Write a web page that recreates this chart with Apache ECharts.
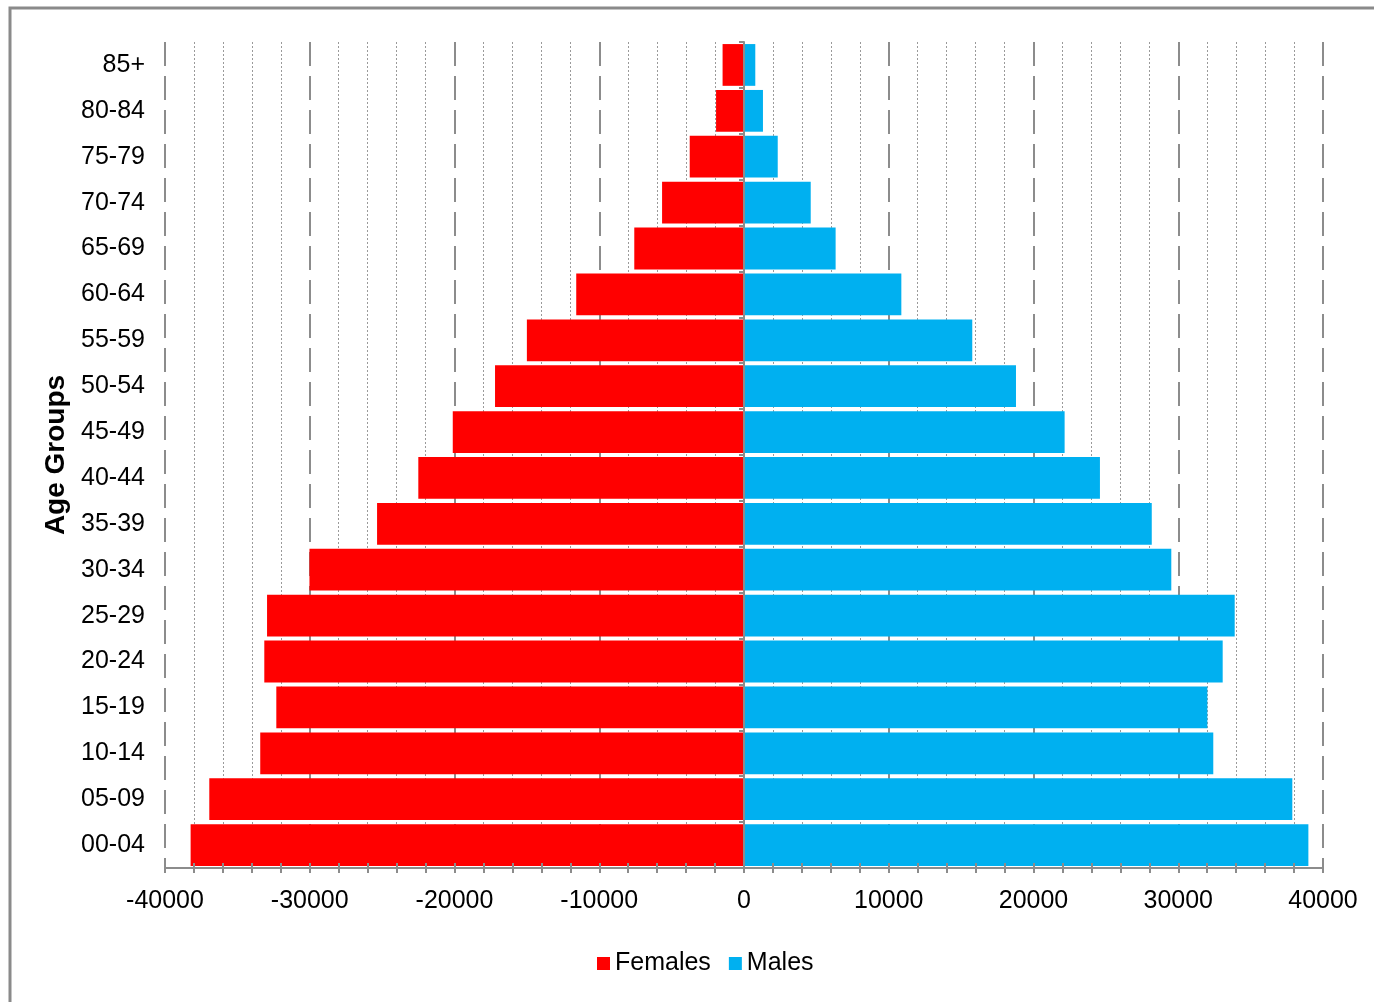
<!DOCTYPE html>
<html>
<head>
<meta charset="utf-8">
<title>Age Groups</title>
<script src="https://cdn.jsdelivr.net/npm/echarts@6/dist/echarts.min.js"></script>
<style>
  html, body { margin: 0; padding: 0; background: #fff; }
  #chart { width: 1374px; height: 1002px; }
</style>
</head>
<body>
<div id="chart"></div>
<script>
  // age groups, bottom to top
  var ageGroups = ['00-04', '05-09', '10-14', '15-19', '20-24', '25-29', '30-34', '35-39', '40-44',
    '45-49', '50-54', '55-59', '60-64', '65-69', '70-74', '75-79', '80-84', '85+']
  // females drawn to the left, so negative
  var females = [-38230, -36940, -33420, -32310, -33140, -32950, -30020, -25350, -22500,
    -20120, -17200, -15000, -11590, -7580, -5660, -3750, -1930, -1480]
  var males = [38990, 37880, 32420, 32010, 33070, 33900, 29520, 28170, 24590,
    22150, 18790, 15770, 10870, 6330, 4610, 2330, 1310, 780]
  var xMin = -40000
  var xMax = 40000
  var xStep = 10000

  var font = "'Liberation Sans', Arial, sans-serif"
  var gridGray = '#8c8c8c'

  var chart = echarts.init(document.getElementById('chart'))

  var option = {
    animation: false,
    color: ['#FF0000', '#00B0F0'],
    textStyle: { fontFamily: font },
    graphic: [{
      type: 'rect',
      shape: { x: 10, y: 8, width: 1400, height: 1100 },
      style: { fill: 'none', stroke: '#8a8a8a', lineWidth: 3 },
      silent: true
    }],
    legend: {
      top: 946,
      left: 592,
      icon: 'rect',
      itemWidth: 13,
      itemHeight: 13,
      itemGap: 18,
      textStyle: { fontSize: 25, color: '#000', fontFamily: font },
      data: ['Females', 'Males']
    },
    grid: {
      left: 165,
      right: 51,
      top: 42,
      bottom: 134
    },
    xAxis: [{
      type: 'value',
      min: xMin,
      max: xMax,
      interval: xStep,
      axisLine: { show: true, onZero: false, lineStyle: { color: gridGray, width: 2 } },
      axisTick: { show: true, length: 5, lineStyle: { color: gridGray, width: 2 } },
      minorTick: { show: true, splitNumber: 5, length: 5, lineStyle: { color: gridGray, width: 2 } },
      axisLabel: {
        fontSize: 25,
        color: '#000',
        margin: 21,
        fontFamily: font,
        formatter: function (v) { return String(v) }
      },
      splitLine: {
        show: true,
        lineStyle: { color: gridGray, width: 2, type: [24, 10] }
      },
      minorSplitLine: {
        show: true,
        lineStyle: { color: '#9a9a9a', width: 1, type: [2, 2] }
      }
    }, {
      // inward half of the crossing ticks
      type: 'value',
      position: 'bottom',
      min: xMin,
      max: xMax,
      interval: xStep,
      z: 10,
      axisLine: { show: false },
      axisTick: { show: true, inside: true, length: 5, lineStyle: { color: gridGray, width: 2 } },
      minorTick: { show: true, splitNumber: 5, length: 5, lineStyle: { color: gridGray, width: 2 } },
      axisLabel: { show: false },
      splitLine: { show: false }
    }],
    yAxis: [{
      type: 'category',
      data: ageGroups,
      position: 'left',
      name: 'Age Groups',
      nameLocation: 'middle',
      nameRotate: 90,
      nameGap: 85,
      nameTextStyle: { fontSize: 28, fontWeight: 'bold', color: '#000', fontFamily: font },
      axisLine: { show: false },
      axisTick: { show: false },
      axisLabel: { fontSize: 25, color: '#000', margin: 20, fontFamily: font },
      splitLine: { show: false }
    }, {
      // axis line sitting on zero
      type: 'category',
      data: ageGroups,
      position: 'left',
      z: 10,
      axisLine: { show: true, onZero: true, lineStyle: { color: gridGray, width: 2 } },
      axisTick: { show: true, length: 5, lineStyle: { color: gridGray, width: 2 } },
      axisLabel: { show: false },
      splitLine: { show: false }
    }],
    series: [{
      name: 'Females',
      type: 'bar',
      stack: 'pop',
      barCategoryGap: '9%',
      data: females
    }, {
      name: 'Males',
      type: 'bar',
      stack: 'pop',
      barCategoryGap: '9%',
      data: males
    }]
  }

  chart.setOption(option)
</script>
</body>
</html>
